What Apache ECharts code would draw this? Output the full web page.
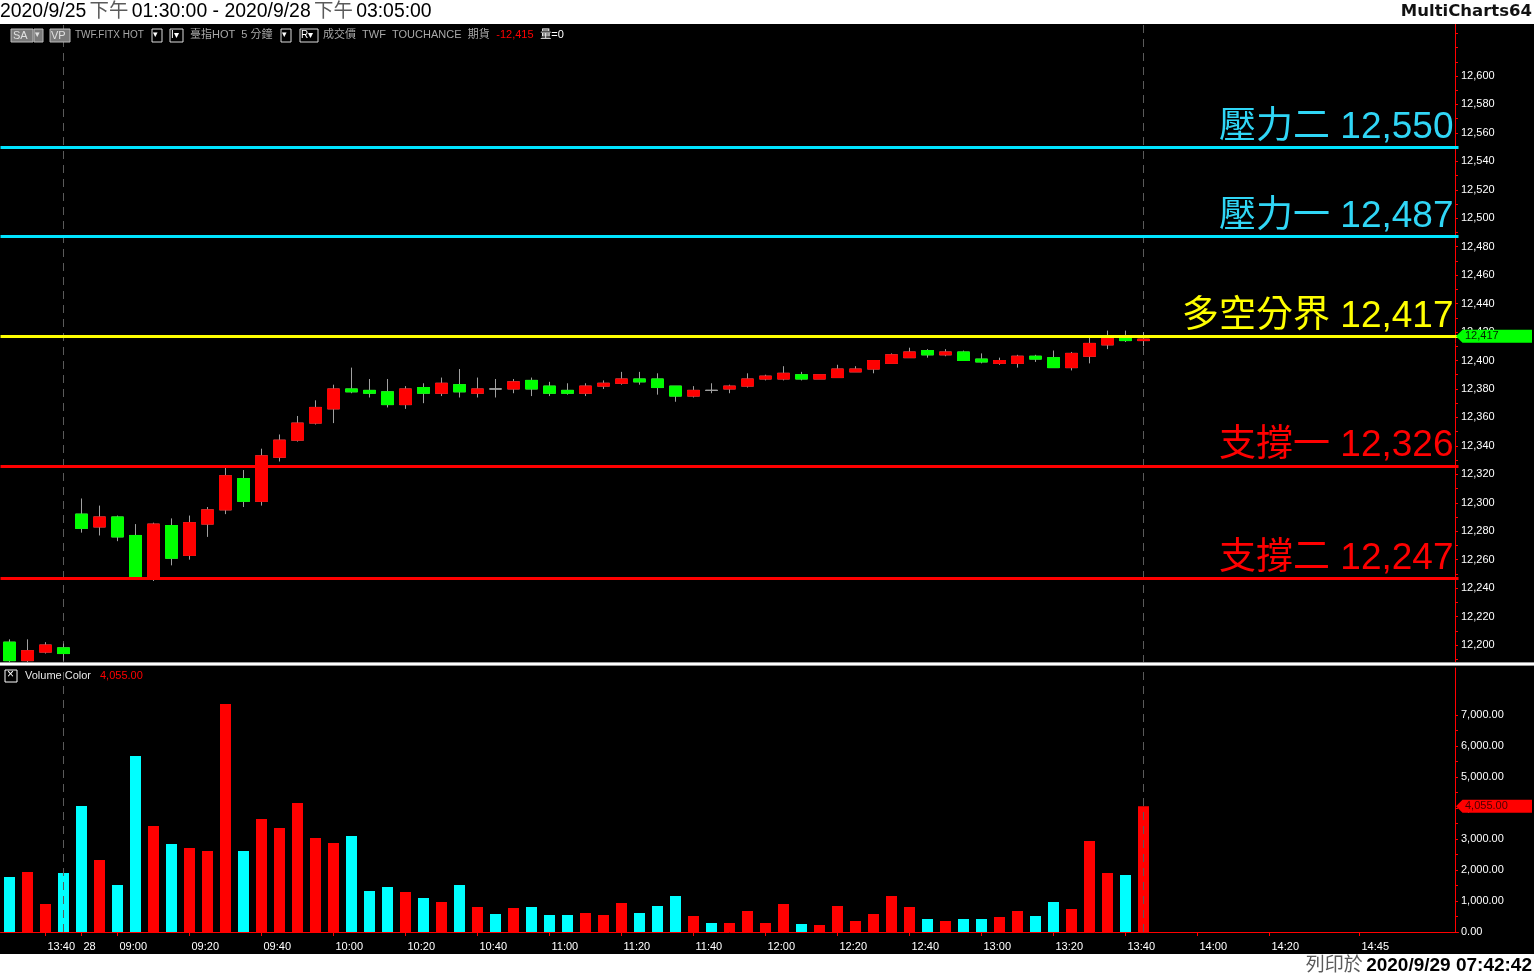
<!DOCTYPE html>
<html>
<head>
<meta charset="utf-8">
<script src="https://cdn.jsdelivr.net/npm/echarts@6/dist/echarts.min.js"></script>
<style>
html,body{margin:0;padding:0;background:#fff;}
#c{width:1534px;height:976px;}
</style>
</head>
<body>
<div id="c"></div>
<script>
// ---------------- DATA ----------------
const openP  = [12202,12189,12195,12198,12292,12283,12290,12277,12247,12284,12263,12285,12295,12317,12301,12332,12344,12356,12366,12380,12379,12378,12369,12381,12377,12383,12377,12380,12380,12386,12382,12379,12377,12382,12384,12387,12387,12382,12375,12379,12380,12382,12387,12387,12390,12387,12388,12392,12394,12398,12402,12407,12404,12406,12401,12398,12398,12403,12402,12395,12403,12411,12416,12414];
const closeP = [12189,12196,12200,12194,12282,12290,12276,12248,12285,12261,12286,12295,12319,12301,12333,12344,12356,12367,12380,12378,12377,12369,12380,12377,12384,12378,12380,12380,12385,12380,12377,12377,12382,12384,12387,12385,12381,12375,12379,12379,12382,12387,12389,12391,12387,12390,12394,12394,12400,12404,12406,12404,12406,12400,12399,12400,12403,12401,12395,12405,12412,12416,12414,12415];
const lowP   = [12188,12188,12194,12189,12279,12277,12273,12248,12245,12256,12260,12276,12292,12297,12298,12329,12343,12355,12356,12377,12374,12367,12366,12370,12375,12374,12374,12374,12377,12375,12375,12376,12375,12380,12383,12383,12376,12371,12374,12377,12377,12381,12386,12386,12386,12387,12388,12392,12391,12398,12402,12402,12403,12400,12398,12397,12395,12399,12395,12393,12398,12408,12413,12410];
const highP  = [12204,12204,12202,12201,12303,12298,12291,12285,12286,12289,12291,12297,12325,12323,12338,12348,12361,12372,12383,12395,12387,12387,12382,12384,12388,12394,12388,12387,12387,12388,12385,12384,12384,12386,12392,12392,12391,12382,12382,12384,12383,12391,12390,12396,12392,12390,12397,12396,12400,12405,12409,12408,12408,12407,12405,12402,12404,12404,12407,12406,12416,12421,12421,12420];
const volume = [1774,1935,903,1903,4065,2323,1516,5677,3419,2839,2710,2613,7355,2613,3645,3355,4161,3032,2871,3097,1323,1452,1290,1097,968,1516,806,581,774,806,548,548,613,548,935,613,839,1161,516,290,290,677,290,903,258,226,839,355,581,1161,806,419,355,419,419,484,677,516,968,742,2935,1903,1839,4055];

const levelNames  = ['壓力二','壓力一','多空分界','支撐一','支撐二'];
const levelValues = [12550,12487,12417,12326,12247];

const priceLabels  = [12200,12220,12240,12260,12280,12300,12320,12340,12360,12380,12400,12420,12440,12460,12480,12500,12520,12540,12560,12580,12600];
const volumeLabels = [0,1000,2000,3000,4000,5000,6000,7000];

const tickIndex = [2,4,6,10,14,18,22,26,30,34,38,42,46,50,54,58,62,66,70,75];
const tickText  = ['13:40','28','09:00','09:20','09:40','10:00','10:20','10:40','11:00','11:20','11:40','12:00','12:20','12:40','13:00','13:20','13:40','14:00','14:20','14:45'];
const sessionEnds = ['09/25 13:45','09/28 13:45'];

// ---------------- BUILD ----------------
const SLOTS = 81;
const cats = [];
for (let i = 0; i < SLOTS; i++) {
  let d, m;
  if (i < 4) { d = '09/25'; m = 13*60 + 30 + 5*i; }
  else { d = '09/28'; m = 8*60 + 50 + 5*(i-4); }
  cats.push(d + ' ' + String(Math.floor(m/60)).padStart(2,'0') + ':' + String(m%60).padStart(2,'0'));
}
const RED = '#ff0000', GREEN = '#00ff00', CYAN = '#00ffff', WICK = '#a0a0a0';
const levelLine = ['#00e4ff','#00e4ff','#ffff00','#ff0000','#ff0000'];
const levelText = ['#30d6f6','#30d6f6','#ffff00','#ff0000','#ff0000'];
const fmt = v => v.toLocaleString('en-US');
const fmt2 = v => v.toLocaleString('en-US',{minimumFractionDigits:2});

const wickData = openP.map((o,i) => [o, closeP[i], lowP[i], highP[i]]);
const bodyData = openP.map((o,i) => [o, closeP[i], Math.min(o,closeP[i]), Math.max(o,closeP[i])]);
const volData = volume.map((v,i) => ({value: v, itemStyle: {color: closeP[i] > openP[i] ? RED : CYAN}}));
const lastVol = volume[volume.length-1];

const priceTicks = [];
for (let v = 12190; v <= 12630; v += 10) priceTicks.push(v);
const volTicks = [];
for (let v = 0; v <= 7000; v += 500) volTicks.push(v);

const FONT = "'Liberation Sans','Noto Sans CJK TC',Arial,sans-serif";

const levelMarks = levelValues.map((v,i) => ({
  yAxis: v,
  lineStyle: {color: levelLine[i], width: 3, type: 'solid'},
  label: {
    show: true, position: 'insideEndTop', distance: [5, 1],
    formatter: levelNames[i] + ' ' + fmt(v),
    color: levelText[i], fontSize: 37, fontFamily: FONT, textBorderWidth: 0
  }
}));
const sessMarks = sessionEnds.map(s => ({
  xAxis: s,
  lineStyle: {color: '#5a5a5a', width: 1, type: [8,6]},
  label: {show: false}
}));

const chart = echarts.init(document.getElementById('c'), null, {renderer: 'canvas', width: 1534, height: 976});

const xCommon = {type: 'category', data: cats, boundaryGap: true};

const baseGraphic = [
  // header & footer bands
  {type: 'rect', left: 0, top: 0, shape: {width: 1534, height: 24}, style: {fill: '#ffffff'}, z: 100},
  {type: 'rect', left: 0, top: 954, shape: {width: 1534, height: 22}, style: {fill: '#ffffff'}, z: 100},
  {type: 'text', left: 0, top: 2, z: 101, style: {
    text: '{a|2020/9/25} {b|下午} {a|01:30:00 - 2020/9/28} {b|下午} {a|03:05:00}',
    rich: {a: {fontSize: 19.4, fontFamily: FONT, fill: '#000000'},
           b: {fontSize: 19.4, fontFamily: FONT, fill: '#5a5a5a'}}
  }},
  {type: 'text', right: 2, top: 3, z: 101, style: {
    text: 'MultiCharts64', fontSize: 16.5, fontWeight: 'bold', fontFamily: "'DejaVu Sans',sans-serif", fill: '#111111'
  }},
  {type: 'text', right: 2, top: 956, z: 101, style: {
    text: '{b|列印於} {a|2020/9/29 07:42:42}',
    rich: {a: {fontSize: 19, fontWeight: 'bold', fontFamily: FONT, fill: '#000000'},
           b: {fontSize: 19, fontFamily: FONT, fill: '#5a5a5a'}}
  }},
  // price / volume separator
  {type: 'rect', left: 0, top: 662, shape: {width: 1534, height: 4}, style: {fill: '#9a9a9a'}, z: 50},
  {type: 'rect', left: 0, top: 663, shape: {width: 1534, height: 2}, style: {fill: '#ffffff'}, z: 51},
  // info row
  {type: 'rect', left: 10.5, top: 28.5, shape: {width: 22, height: 13}, style: {fill: '#7a7a7a', stroke: '#bbbbbb', lineWidth: 1}, z: 60},
  {type: 'rect', left: 33.5, top: 28.5, shape: {width: 9, height: 13}, style: {fill: '#7a7a7a', stroke: '#bbbbbb', lineWidth: 1}, z: 60},
  {type: 'rect', left: 49.5, top: 28.5, shape: {width: 20, height: 13}, style: {fill: '#7a7a7a', stroke: '#bbbbbb', lineWidth: 1}, z: 60},
  {type: 'rect', left: 151.5, top: 28.5, shape: {width: 10, height: 13}, style: {fill: '#000000', stroke: '#dddddd', lineWidth: 1}, z: 60},
  {type: 'rect', left: 169.5, top: 28.5, shape: {width: 13, height: 13}, style: {fill: '#000000', stroke: '#dddddd', lineWidth: 1}, z: 60},
  {type: 'rect', left: 280.5, top: 28.5, shape: {width: 10, height: 13}, style: {fill: '#000000', stroke: '#dddddd', lineWidth: 1}, z: 60},
  {type: 'rect', left: 299.5, top: 28.5, shape: {width: 18, height: 13}, style: {fill: '#000000', stroke: '#dddddd', lineWidth: 1}, z: 60},
  {type: 'text', left: 13, top: 30, z: 61, style: {text: 'SA', fontSize: 11, fontFamily: FONT, fill: '#e0e0e0'}},
  {type: 'text', left: 35, top: 30, z: 61, style: {text: '▾', fontSize: 9, fontFamily: FONT, fill: '#e0e0e0'}},
  {type: 'text', left: 51, top: 30, z: 61, style: {text: 'VP', fontSize: 11, fontFamily: FONT, fill: '#e0e0e0'}},
  {type: 'text', left: 75, top: 30, z: 61, style: {text: 'TWF.FITX HOT', fontSize: 10, fontFamily: FONT, fill: '#a8a8a8'}},
  {type: 'text', left: 153, top: 30, z: 61, style: {text: '▾', fontSize: 9, fontFamily: FONT, fill: '#ffffff'}},
  {type: 'text', left: 171, top: 30, z: 61, style: {text: 'I▾', fontSize: 10, fontFamily: FONT, fill: '#ffffff'}},
  {type: 'text', left: 190, top: 29, z: 61, style: {text: '臺指HOT  5 分鐘', fontSize: 11, fontFamily: FONT, fill: '#a8a8a8'}},
  {type: 'text', left: 282, top: 30, z: 61, style: {text: '▾', fontSize: 9, fontFamily: FONT, fill: '#ffffff'}},
  {type: 'text', left: 301, top: 30, z: 61, style: {text: 'R▾', fontSize: 10, fontFamily: FONT, fill: '#ffffff'}},
  {type: 'text', left: 323, top: 29, z: 61, style: {
    text: '{g|成交價  TWF  TOUCHANCE  期貨}  {r|-12,415}  {w|量=0}',
    rich: {g: {fontSize: 11, fontFamily: FONT, fill: '#a8a8a8'},
           r: {fontSize: 11, fontFamily: FONT, fill: '#ff0000'},
           w: {fontSize: 11, fontFamily: FONT, fill: '#ffffff'}}
  }},
  // volume header
  {type: 'rect', left: 4.5, top: 669.5, shape: {width: 12, height: 12}, style: {fill: '#000000', stroke: '#ffffff', lineWidth: 1}, z: 60},
  {type: 'text', left: 7, top: 669, z: 61, style: {text: '×', fontSize: 12, fontFamily: FONT, fill: '#ffffff'}},
  {type: 'text', left: 25, top: 670, z: 61, style: {text: 'Volume Color', fontSize: 11, fontFamily: FONT, fill: '#e8e8e8'}},
  {type: 'text', left: 100, top: 670, z: 61, style: {text: fmt2(lastVol), fontSize: 11, fontFamily: FONT, fill: '#ff0000'}}
];

const option = {
  animation: false,
  backgroundColor: '#000000',
  grid: [
    {left: 0.5, top: 24, width: 1458, height: 639},
    {left: 0.5, top: 668, width: 1458, height: 264}
  ],
  xAxis: [
    Object.assign({}, xCommon, {gridIndex: 0, show: false}),
    Object.assign({}, xCommon, {
      gridIndex: 1, offset: 4,
      axisLine: {show: true, lineStyle: {color: RED, width: 1}},
      axisTick: {show: true, alignWithLabel: true, length: 4, lineStyle: {color: RED},
                 interval: (idx) => tickIndex.indexOf(idx) >= 0},
      axisLabel: {show: true, color: '#ffffff', fontSize: 11, fontFamily: FONT, margin: 5,
                  align: 'left', padding: [0,0,0,2],
                  interval: (idx) => tickIndex.indexOf(idx) >= 0,
                  formatter: (val, idx) => { const k = tickIndex.indexOf(idx); return k >= 0 ? tickText[k] : ''; }},
      splitLine: {show: false}
    })
  ],
  yAxis: [
    {
      gridIndex: 0, type: 'value', position: 'right', offset: -3.5,
      min: 12187.35, max: 12636.56, scale: true,
      axisLine: {show: true, lineStyle: {color: RED, width: 1}},
      axisTick: {show: true, length: 3, lineStyle: {color: RED}, customValues: priceTicks},
      axisLabel: {show: true, color: '#ffffff', fontSize: 11, fontFamily: FONT, margin: 6,
                  customValues: priceLabels, formatter: v => fmt(v)},
      splitLine: {show: false}
    },
    {
      gridIndex: 1, type: 'value', position: 'right', offset: -3.5,
      min: 0, max: 8516,
      axisLine: {show: true, lineStyle: {color: RED, width: 1}},
      axisTick: {show: true, length: 3, lineStyle: {color: RED}, customValues: volTicks},
      axisLabel: {show: true, color: '#ffffff', fontSize: 11, fontFamily: FONT, margin: 6,
                  customValues: volumeLabels, formatter: v => fmt2(v)},
      splitLine: {show: false}
    }
  ],
  series: [
    {
      type: 'candlestick', name: 'wick', xAxisIndex: 0, yAxisIndex: 0,
      data: wickData, barWidth: 12, silent: true, z: 3,
      itemStyle: {color: WICK, color0: WICK, borderColor: WICK, borderColor0: WICK, borderColorDoji: WICK, borderWidth: 1},
      markLine: {silent: true, symbol: 'none', animation: false, z: 1, data: sessMarks}
    },
    {
      type: 'candlestick', name: 'body', xAxisIndex: 0, yAxisIndex: 0,
      data: bodyData, barWidth: 12, silent: true, z: 4,
      itemStyle: {color: RED, color0: GREEN, borderColor: RED, borderColor0: GREEN, borderColorDoji: WICK, borderWidth: 1},
      markLine: {silent: true, symbol: 'none', animation: false, data: levelMarks}
    },
    {
      type: 'bar', name: 'Volume', xAxisIndex: 1, yAxisIndex: 1,
      data: volData, barWidth: 11, silent: true,
      markLine: {silent: true, symbol: 'none', animation: false, data: sessMarks}
    }
  ],
  graphic: baseGraphic
};
chart.setOption(option);

// last-value tags on the right axes, positioned through the axes' own scales
const yTagP = chart.convertToPixel({yAxisIndex: 0}, levelValues[2]);
const yTagV = chart.convertToPixel({yAxisIndex: 1}, lastVol);
const tag = (y, bg, fg, text) => ([
  {type: 'polygon', z: 90,
   shape: {points: [[1456, y], [1462.5, y - 6.5], [1532, y - 6.5], [1532, y + 6.5], [1462.5, y + 6.5]]},
   style: {fill: bg}},
  {type: 'text', z: 91, left: 1465, top: y - 6,
   style: {text: text, fontSize: 11, fontFamily: FONT, fill: fg}}
]);
chart.setOption({graphic: baseGraphic
  .concat(tag(yTagP, GREEN, '#002200', fmt(levelValues[2])))
  .concat(tag(yTagV, RED, '#4a0000', fmt2(lastVol)))});
</script>
</body>
</html>
